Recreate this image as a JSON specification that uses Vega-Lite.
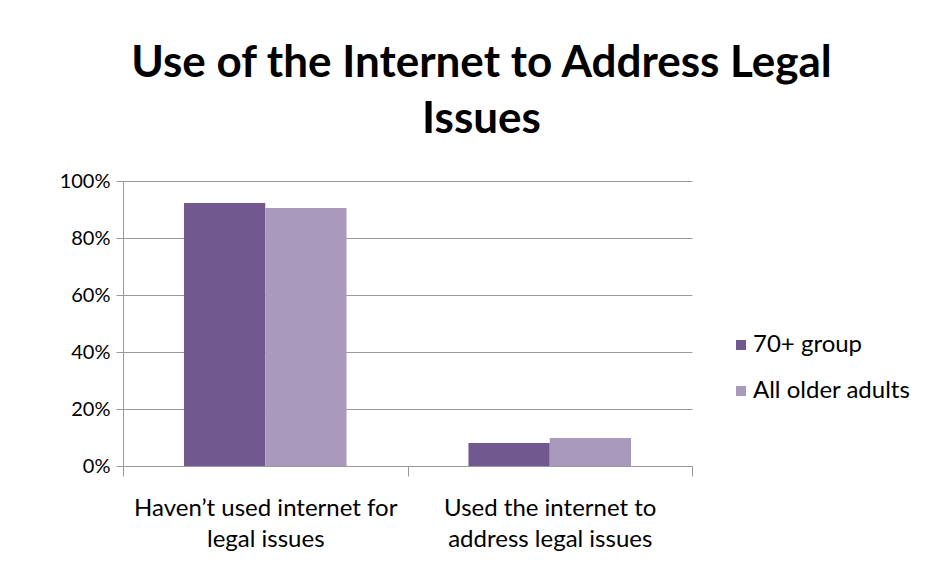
{
  "$schema": "https://vega.github.io/schema/vega-lite/v6.json",
  "autosize": "none",
  "width": 569,
  "height": 285,
  "padding": {"left": 123, "top": 181, "right": 240, "bottom": 112},
  "background": "white",
  "title": {
    "text": ["Use of the Internet to Address Legal", "Issues"],
    "font": "Lato",
    "fontSize": 44,
    "fontWeight": "bold",
    "color": "#000000",
    "anchor": "middle",
    "baseline": "alphabetic",
    "lineHeight": 56,
    "dx": 74,
    "offset": -6
  },
  "data": {
    "values": [
      {"category": "Haven’t used internet for legal issues", "group": "70+ group", "value": 0.923},
      {"category": "Haven’t used internet for legal issues", "group": "All older adults", "value": 0.905},
      {"category": "Used the internet to address legal issues", "group": "70+ group", "value": 0.081},
      {"category": "Used the internet to address legal issues", "group": "All older adults", "value": 0.098}
    ]
  },
  "mark": {"type": "bar"},
  "encoding": {
    "x": {
      "field": "category",
      "type": "nominal",
      "sort": null,
      "scale": {"paddingInner": 0, "paddingOuter": 0},
      "axis": {
        "title": null,
        "labelAngle": 0,
        "tickBand": "extent",
        "tickSize": 10,
        "tickColor": "#999999",
        "domainColor": "#999999",
        "labelFont": "Lato",
        "labelFontSize": 24,
        "labelColor": "#000000",
        "labelPadding": 20,
        "labelLineHeight": 31,
        "labelLimit": 0,
        "labelExpr": "datum.label == 'Haven’t used internet for legal issues' ? ['Haven’t used internet for', 'legal issues'] : datum.label == 'Used the internet to address legal issues' ? ['Used the internet to', 'address legal issues'] : ''"
      }
    },
    "xOffset": {
      "field": "group",
      "type": "nominal",
      "scale": {"paddingInner": 0, "paddingOuter": 0.75}
    },
    "y": {
      "field": "value",
      "type": "quantitative",
      "scale": {"domain": [0, 1]},
      "axis": {
        "title": null,
        "format": ".0%",
        "values": [0, 0.2, 0.4, 0.6, 0.8, 1],
        "tickSize": 7,
        "tickColor": "#999999",
        "domainColor": "#999999",
        "gridColor": "#999999",
        "labelFont": "Lato",
        "labelFontSize": 20,
        "labelColor": "#000000",
        "labelPadding": 6
      }
    },
    "color": {
      "field": "group",
      "type": "nominal",
      "scale": {"domain": ["70+ group", "All older adults"], "range": ["#71588F", "#A899BD"]},
      "legend": {
        "title": null,
        "orient": "none",
        "legendX": 606,
        "legendY": 152,
        "symbolType": "square",
        "symbolSize": 100,
        "symbolStrokeWidth": 0,
        "labelFont": "Lato",
        "labelFontSize": 24,
        "labelColor": "#000000",
        "labelOffset": 0,
        "labelLimit": 0,
        "rowPadding": 22
      }
    }
  },
  "config": {
    "view": {"stroke": null},
    "axis": {"gridWidth": 1, "domainWidth": 1, "tickWidth": 1}
  }
}
